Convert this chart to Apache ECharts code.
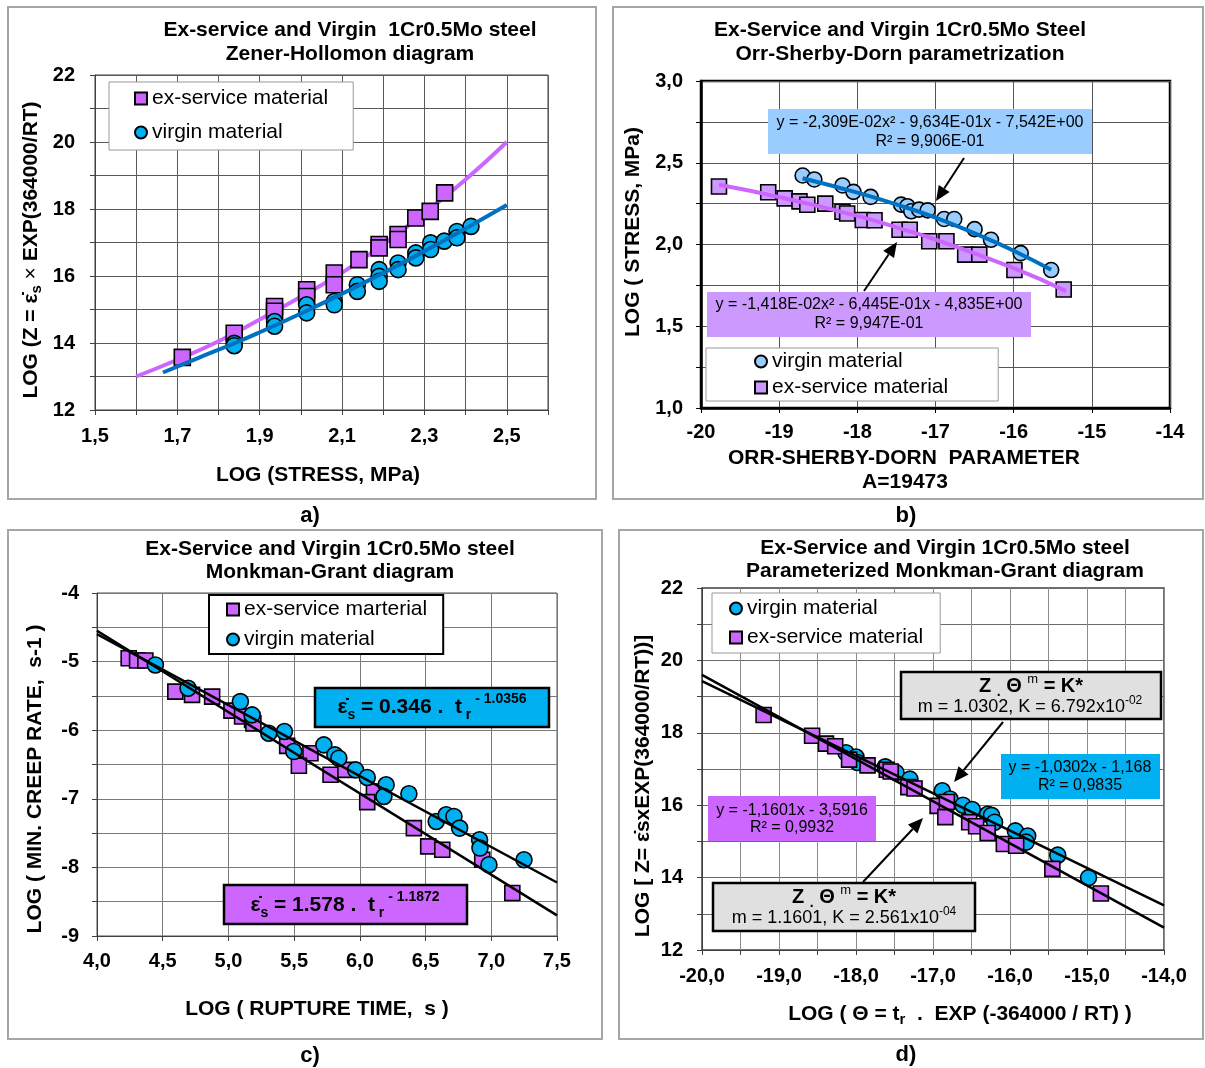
<!DOCTYPE html>
<html><head><meta charset="utf-8">
<script src="https://cdn.jsdelivr.net/npm/echarts@6/dist/echarts.min.js"></script>
<style>html,body{margin:0;padding:0;background:#fff}#c{width:1205px;height:1068px}</style>
</head><body><div id="c"></div>
<script>
// ---------------- DATA ----------------
// a) Zener-Hollomon diagram  [log stress, log Z]
const zhExService = [[1.712,13.57],[1.838,14.29],[1.936,15.09],[1.936,14.95],[2.014,15.59],[2.014,15.39],[2.081,16.09],[2.081,15.74],[2.141,16.49],[2.19,16.94],[2.19,16.84],[2.236,17.24],[2.236,17.09],[2.279,17.73],[2.314,17.93],[2.349,18.48]];
const zhVirgin = [[1.838,13.99],[1.838,13.92],[1.936,14.64],[1.936,14.5],[2.014,15.14],[2.014,14.9],[2.081,15.24],[2.081,15.14],[2.137,15.74],[2.137,15.54],[2.19,16.19],[2.19,15.99],[2.19,15.84],[2.236,16.39],[2.236,16.19],[2.279,16.69],[2.279,16.54],[2.315,16.99],[2.315,16.79],[2.348,17.04],[2.379,17.33],[2.379,17.14],[2.413,17.48]];
const zhExFit = [[1.6,13.0],[1.7,13.5],[1.8,14.05],[1.9,14.7],[2.0,15.38],[2.1,16.1],[2.2,16.95],[2.3,17.88],[2.4,18.88],[2.5,20.0]];
const zhVirFit = [[1.665,13.12],[1.75,13.55],[1.84,14.0],[1.9,14.32],[2.0,14.88],[2.1,15.47],[2.2,16.09],[2.3,16.74],[2.4,17.42],[2.5,18.12]];
// b) Orr-Sherby-Dorn  [parameter, log stress]
const osdVirgin = [[-18.70,2.422],[-18.55,2.398],[-18.19,2.361],[-18.05,2.322],[-17.83,2.291],[-17.44,2.244],[-17.36,2.234],[-17.31,2.203],[-17.21,2.213],[-17.10,2.209],[-16.89,2.156],[-16.76,2.156],[-16.50,2.094],[-16.29,2.029],[-15.91,1.947],[-15.52,1.844]];
const osdExService = [[-19.77,2.355],[-19.14,2.32],[-18.93,2.282],[-18.74,2.264],[-18.64,2.243],[-18.41,2.25],[-18.19,2.2],[-18.13,2.19],[-17.93,2.15],[-17.78,2.148],[-17.46,2.09],[-17.33,2.09],[-17.08,2.02],[-16.86,2.02],[-16.62,1.938],[-16.44,1.938],[-15.99,1.844],[-15.36,1.725]];
const osdVirFit = [[-18.70,2.405],[-18.0,2.317],[-17.5,2.245],[-17.0,2.165],[-16.5,2.068],[-16.0,1.962],[-15.52,1.845]];
const osdExFit = [[-19.77,2.365],[-19.0,2.29],[-18.0,2.175],[-17.5,2.105],[-17.0,2.03],[-16.0,1.855],[-15.33,1.715]];
// c) Monkman-Grant  [log rupture time, log min creep rate]
const mgExService = [[4.241,-4.951],[4.305,-4.985],[4.368,-4.985],[4.596,-5.437],[4.723,-5.485],[4.876,-5.51],[5.023,-5.714],[5.104,-5.80],[5.18,-5.85],[5.19,-5.9],[5.447,-6.228],[5.624,-6.335],[5.536,-6.519],[5.777,-6.65],[5.89,-6.578],[6.107,-6.893],[6.056,-7.049],[6.411,-7.427],[6.52,-7.694],[6.627,-7.743],[6.931,-7.888],[7.16,-8.374]];
const mgVirgin = [[4.444,-5.049],[4.693,-5.388],[5.091,-5.583],[5.18,-5.777],[5.307,-6.044],[5.426,-6.019],[5.497,-6.311],[5.726,-6.214],[5.81,-6.359],[5.84,-6.408],[5.967,-6.578],[6.056,-6.689],[6.2,-6.796],[6.183,-6.966],[6.373,-6.927],[6.581,-7.33],[6.657,-7.233],[6.716,-7.257],[6.759,-7.427],[6.911,-7.597],[6.914,-7.718],[6.982,-7.961],[7.249,-7.888]];
const mgVirFit = [[4.0,-4.6],[7.5,-8.22]];
const mgExFit = [[4.0,-4.55],[7.5,-8.7]];
// d) Parameterized Monkman-Grant  [log theta, log Z]
const pmgVirgin = [[-18.13,17.45],[-18.0,17.33],[-17.98,17.18],[-17.62,17.06],[-17.48,16.9],[-17.3,16.72],[-16.88,16.4],[-16.78,16.17],[-16.61,16.0],[-16.49,15.88],[-16.29,15.75],[-16.24,15.72],[-16.2,15.53],[-15.93,15.29],[-15.77,15.15],[-15.79,14.98],[-15.38,14.62],[-14.98,14.0]];
const pmgExService = [[-19.2,18.49],[-18.57,17.92],[-18.39,17.7],[-18.27,17.63],[-18.09,17.26],[-17.85,17.1],[-17.6,16.98],[-17.55,16.93],[-17.32,16.5],[-17.24,16.46],[-16.94,15.98],[-16.82,16.09],[-16.84,15.67],[-16.53,15.53],[-16.44,15.42],[-16.29,15.23],[-16.08,14.93],[-15.92,14.88],[-15.45,14.24],[-14.82,13.56]];
const pmgVirFit = [[-20,19.43],[-14,13.23]];
const pmgExFit = [[-20,19.6],[-14,12.62]];

// ---------------- STYLE / LAYOUT ----------------
const F = "'Liberation Sans', Arial, Helvetica, sans-serif";
const PURPLE = '#cc66ff', CYAN = '#00b0f0', LPURPLE = '#cc99ff', LBLUE = '#99ccff', DBLUE = '#0070c0';
const comma = v => v.toFixed(1).replace('.', ',');
const isInt = v => Math.abs(v - Math.round(v)) < 1e-6;

function mkAxis(o) {
  return {
    type: 'value', gridIndex: o.grid, min: o.min, max: o.max, interval: o.interval,
    axisLine: { show: true, onZero: false, lineStyle: { color: o.line || '#404040', width: o.lw || 1 } },
    axisTick: { show: true, inside: false, length: 5, lineStyle: { color: o.line || '#404040', width: 1 } },
    axisLabel: { show: true, margin: o.margin, fontSize: 20, fontWeight: 'bold', color: '#000', fontFamily: F,
      formatter: o.fmt, showMinLabel: true, showMaxLabel: true, hideOverlap: false },
    splitLine: { show: true, lineStyle: { color: o.split || '#666', width: 1 } }
  };
}
function scat(name, gi, data, symbol, size, color, z) {
  return { type: 'scatter', name, xAxisIndex: gi, yAxisIndex: gi, data, symbol, symbolSize: size, z,
    itemStyle: { color, borderColor: '#000', borderWidth: 1.6, opacity: 1 }, silent: true };
}
function fit(name, gi, data, color, width, z) {
  return { type: 'line', name, xAxisIndex: gi, yAxisIndex: gi, data, smooth: true, showSymbol: false, symbol: 'none', z,
    lineStyle: { color, width }, silent: true };
}
function legend(o) {
  return { orient: 'vertical', left: o.left, top: o.top, data: o.data, formatter: n => n.slice(2),
    itemWidth: 12, itemHeight: 12, itemGap: o.gap, padding: o.pad, borderColor: o.bc, borderWidth: o.bw,
    backgroundColor: '#fff', selectedMode: false, z: 20,
    textStyle: { fontSize: 21, fontFamily: F, color: '#000' } };
}
function txt(x, y, text, size, bold, extra) {
  extra = extra || {};
  return { type: 'text', x, y, rotation: extra.rot || 0, z: 100,
    style: { text, fontSize: size, fontWeight: bold ? 'bold' : 'normal', fontFamily: F, fill: '#000',
      align: 'center', verticalAlign: 'middle', rich: extra.rich } };
}
function rect(x, y, w, h, fill, stroke, lw) {
  return { type: 'rect', z: 90, shape: { x, y, width: w, height: h },
    style: { fill: fill || 'none', stroke: stroke || null, lineWidth: lw || 0 } };
}
function arrow(x1, y1, x2, y2) {
  const dx = x2 - x1, dy = y2 - y1, L = Math.hypot(dx, dy), ux = dx / L, uy = dy / L;
  const hl = 15, hw = 6.5, bx = x2 - ux * hl, by = y2 - uy * hl;
  return [
    { type: 'line', z: 95, shape: { x1, y1, x2: bx, y2: by }, style: { stroke: '#000', lineWidth: 2 } },
    { type: 'polygon', z: 95, shape: { points: [[x2, y2], [bx - uy * hw, by + ux * hw], [bx + uy * hw, by - ux * hw]] }, style: { fill: '#000' } }
  ];
}
const richMG = {
  m: { fontSize: 21, fontWeight: 'bold', lineHeight: 30, fontFamily: F },
  s: { fontSize: 14, fontWeight: 'bold', lineHeight: 16, verticalAlign: 'bottom', fontFamily: F },
  p: { fontSize: 14, fontWeight: 'bold', lineHeight: 16, verticalAlign: 'top', fontFamily: F }
};
const richZ1 = {
  b: { fontSize: 20, fontWeight: 'bold', lineHeight: 26, fontFamily: F },
  s: { fontSize: 14, fontWeight: 'bold', lineHeight: 14, verticalAlign: 'bottom', fontFamily: F },
  p: { fontSize: 13, lineHeight: 14, verticalAlign: 'top', fontFamily: F }
};
const richZ2 = {
  n: { fontSize: 18, lineHeight: 24, fontFamily: F },
  p: { fontSize: 12, lineHeight: 12, verticalAlign: 'top', fontFamily: F }
};
const richAx = {
  n: { fontSize: 21, fontWeight: 'bold', lineHeight: 27, fontFamily: F },
  s: { fontSize: 15, fontWeight: 'bold', lineHeight: 15, verticalAlign: 'bottom', fontFamily: F },
  x: { fontSize: 21, lineHeight: 27, fontFamily: F }
};
const TS = 21; // title / axis-name size

const graphics = [
  rect(8, 7, 588, 492, 'none', '#a6a6a6', 2),
  rect(613, 7, 590, 492, 'none', '#a6a6a6', 2),
  rect(8, 530, 594, 509, 'none', '#a6a6a6', 2),
  rect(619, 530, 584, 509, 'none', '#a6a6a6', 2),
  // titles
  txt(350, 30, 'Ex-service and Virgin  1Cr0.5Mo steel', TS, true),
  txt(350, 54, 'Zener-Hollomon diagram', TS, true),
  txt(900, 30, 'Ex-Service and Virgin 1Cr0.5Mo Steel', TS, true),
  txt(900, 54, 'Orr-Sherby-Dorn parametrization', TS, true),
  txt(330, 549, 'Ex-Service and Virgin 1Cr0.5Mo steel', TS, true),
  txt(330, 572, 'Monkman-Grant diagram', TS, true),
  txt(945, 548, 'Ex-Service and Virgin 1Cr0.5Mo steel', TS, true),
  txt(945, 571, 'Parameterized Monkman-Grant diagram', TS, true),
  // axis names
  txt(318, 475, 'LOG (STRESS, MPa)', TS, true),
  txt(31, 250, '{n|LOG (Z = ε\u0307}{s|s}{x| × }{n|EXP(364000/RT)}', TS, true, { rot: Math.PI / 2, rich: richAx }),
  txt(904, 458, 'ORR-SHERBY-DORN  PARAMETER', TS, true),
  txt(905, 482, 'A=19473', TS, true),
  txt(633, 232, 'LOG ( STRESS, MPa)', TS, true, { rot: Math.PI / 2 }),
  txt(317, 1009, 'LOG ( RUPTURE TIME,  s )', TS, true),
  txt(35, 779, 'LOG ( MIN. CREEP RATE,  s-1 )', TS, true, { rot: Math.PI / 2 }),
  txt(960, 1014, '{n|LOG ( Θ = t}{s|r}{n|  .  EXP (-364000 / RT) )}', TS, true, { rich: richAx }),
  txt(643, 786, 'LOG [ Z= ε\u0307sxEXP(364000/RT))]', TS, true, { rot: Math.PI / 2 }),
  // panel labels
  txt(310, 516, 'a)', 22, true),
  txt(906, 516, 'b)', 22, true),
  txt(310, 1056, 'c)', 22, true),
  txt(906, 1055, 'd)', 22, true),
  // b) annotation boxes
  rect(768, 109, 324, 45, LBLUE),
  txt(930, 123, 'y = -2,309E-02x² - 9,634E-01x - 7,542E+00', 16, false),
  txt(930, 142, 'R² = 9,906E-01', 16, false),
  rect(707, 292, 324, 45, LPURPLE),
  txt(869, 305, 'y = -1,418E-02x² - 6,445E-01x - 4,835E+00', 16, false),
  txt(869, 324, 'R² = 9,947E-01', 16, false),
  ...arrow(964, 158, 936, 201),
  ...arrow(864, 291, 897, 242),
  // c) annotation boxes
  rect(315, 688, 234, 39, CYAN, '#000', 2.5),
  txt(432, 707, '{m|ε\u0307}{s|s}{m| = 0.346 .  t}{s| r}{p| - 1.0356}', 21, true, { rich: richMG }),
  rect(224, 885, 243, 39, PURPLE, '#000', 2.5),
  txt(345, 905, '{m|ε\u0307}{s|s}{m| = 1.578 .  t}{s| r}{p| - 1.1872}', 21, true, { rich: richMG }),
  // d) annotation boxes
  rect(901, 672, 260, 47, '#e0e0e0', '#000', 2.5),
  txt(1031, 686, '{b|Z }{s|.}{b| Θ }{p|m}{b| = K*}', 20, true, { rich: richZ1 }),
  txt(1030, 707, '{n|m = 1.0302, K = 6.792x10}{p|-02}', 18, false, { rich: richZ2 }),
  rect(713, 883, 262, 48, '#e0e0e0', '#000', 2.5),
  txt(844, 897, '{b|Z }{s|.}{b| Θ }{p|m}{b| = K*}', 20, true, { rich: richZ1 }),
  txt(844, 918, '{n|m = 1.1601, K = 2.561x10}{p|-04}', 18, false, { rich: richZ2 }),
  rect(1001, 754, 159, 45, CYAN),
  txt(1080, 768, 'y = -1,0302x - 1,168', 16, false),
  txt(1080, 786, 'R² = 0,9835', 16, false),
  rect(708, 796, 168, 45, PURPLE),
  txt(792, 811, 'y = -1,1601x - 3,5916', 16, false),
  txt(792, 828, 'R² = 0,9932', 16, false),
  ...arrow(1003, 722, 954, 782),
  ...arrow(863, 882, 923, 818)
];

const option = {
  animation: false,
  backgroundColor: '#fff',
  textStyle: { fontFamily: F },
  grid: [
    { left: 95, top: 75, width: 453, height: 335, show: true, borderColor: '#404040', borderWidth: 1, containLabel: false, outerBoundsMode: 'none' },
    { left: 701, top: 81, width: 469, height: 327, show: true, borderColor: '#000', borderWidth: 2.5, containLabel: false, outerBoundsMode: 'none' },
    { left: 97, top: 593, width: 460, height: 343, show: true, borderColor: '#505050', borderWidth: 1, containLabel: false, outerBoundsMode: 'none' },
    { left: 702, top: 588, width: 462, height: 362, show: true, borderColor: '#404040', borderWidth: 1.5, containLabel: false, outerBoundsMode: 'none' }
  ],
  xAxis: [
    mkAxis({ grid: 0, min: 1.5, max: 2.6, interval: 0.1, margin: 16, split: '#5a5a5a', fmt: v => (Math.round(v * 10) % 2 === 1) ? comma(v) : '' }),
    mkAxis({ grid: 1, min: -20, max: -14, interval: 1, margin: 14, line: '#000', lw: 2.5, split: '#555', fmt: v => String(Math.round(v)) }),
    mkAxis({ grid: 2, min: 4, max: 7.5, interval: 0.5, margin: 15, split: '#7a7a7a', fmt: v => comma(v) }),
    mkAxis({ grid: 3, min: -20, max: -14, interval: 0.5, margin: 16, split: '#8a8a8a', fmt: v => isInt(v) ? comma(Math.round(v)) : '' })
  ],
  yAxis: [
    mkAxis({ grid: 0, min: 12, max: 22, interval: 1, margin: 20, split: '#5a5a5a', fmt: v => (Math.round(v) % 2 === 0) ? String(Math.round(v)) : '' }),
    mkAxis({ grid: 1, min: 1, max: 3, interval: 0.25, margin: 18, line: '#000', lw: 2.5, split: '#555', fmt: v => (Math.round(v * 4) % 2 === 0) ? comma(v) : '' }),
    mkAxis({ grid: 2, min: -9, max: -4, interval: 0.5, margin: 18, split: '#7a7a7a', fmt: v => isInt(v) ? String(Math.round(v)) : '' }),
    mkAxis({ grid: 3, min: 12, max: 22, interval: 1, margin: 19, split: '#6a6a6a', fmt: v => (Math.round(v) % 2 === 0) ? String(Math.round(v)) : '' })
  ],
  legend: [
    legend({ left: 109, top: 82, data: ['a:ex-service material', 'a:virgin material'], gap: 13, pad: [6, 25, 7, 25], bc: '#999', bw: 1 }),
    legend({ left: 706, top: 348, data: ['b:virgin material', 'b:ex-service material'], gap: 5, pad: [3, 50, 3, 48], bc: '#999', bw: 1 }),
    legend({ left: 209, top: 595, data: ['c:ex-service marterial', 'c:virgin material'], gap: 9, pad: [4, 16, 4, 17], bc: '#000', bw: 2 }),
    legend({ left: 712, top: 593, data: ['d:virgin material', 'd:ex-service material'], gap: 8, pad: [5, 17, 5, 17], bc: '#999', bw: 1 })
  ],
  series: [
    fit('a:exfit', 0, zhExFit, PURPLE, 4, 2),
    scat('a:ex-service material', 0, zhExService, 'rect', 16, PURPLE, 3),
    scat('a:virgin material', 0, zhVirgin, 'circle', 16, CYAN, 4),
    fit('a:virfit', 0, zhVirFit, DBLUE, 4, 5),

    scat('b:ex-service material', 1, osdExService, 'rect', 15, LPURPLE, 3),
    scat('b:virgin material', 1, osdVirgin, 'circle', 15, LBLUE, 3),
    fit('b:exfit', 1, osdExFit, PURPLE, 4, 5),
    fit('b:virfit', 1, osdVirFit, DBLUE, 4, 5),

    scat('c:ex-service marterial', 2, mgExService, 'rect', 15, PURPLE, 3),
    scat('c:virgin material', 2, mgVirgin, 'circle', 16, CYAN, 4),
    fit('c:exfit', 2, mgExFit, '#000', 2.5, 5),
    fit('c:virfit', 2, mgVirFit, '#000', 2.5, 5),

    scat('d:virgin material', 3, pmgVirgin, 'circle', 16, CYAN, 3),
    scat('d:ex-service material', 3, pmgExService, 'rect', 15, PURPLE, 4),
    fit('d:exfit', 3, pmgExFit, '#000', 2.5, 5),
    fit('d:virfit', 3, pmgVirFit, '#000', 2.5, 5)
  ],
  graphic: graphics
};
const chart = echarts.init(document.getElementById('c'), null, { renderer: 'canvas' });
chart.setOption(option);
</script></body></html>
